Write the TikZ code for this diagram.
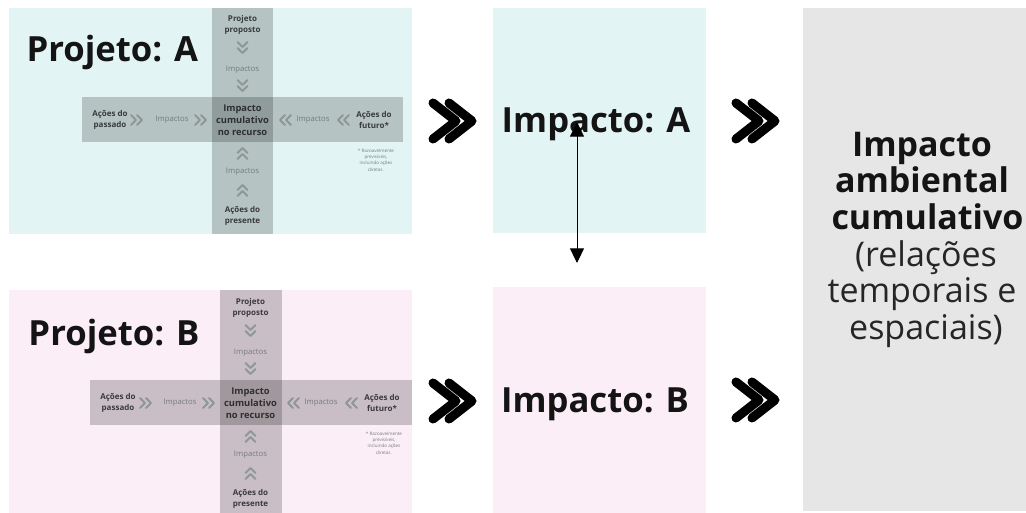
\documentclass[tikz,border=0pt]{standalone}
\usepackage{fontspec}
\setmainfont{Open Sans}
\usetikzlibrary{arrows.meta}
\tikzset{every picture/.style={line width=0.75pt}}
\definecolor{paneA}{HTML}{E3F4F4}
\definecolor{paneB}{HTML}{FCEEF7}
\definecolor{paneC}{HTML}{E6E6E6}
\definecolor{labtxt}{HTML}{3A3A3A}
\definecolor{imptxt}{HTML}{767C7C}
\definecolor{chevcol}{HTML}{8E9696}
\tikzset{
  band/.style={fill=black, fill opacity=0.2, draw=none},
  lab/.style={font=\fontsize{6}{8.5}\selectfont\bfseries, text=labtxt, align=center, inner sep=0.75pt},
  imp/.style={font=\fontsize{5.8}{7}\selectfont, text=imptxt, inner sep=0.75pt},
  core/.style={font=\fontsize{7}{9.2}\selectfont\bfseries, text=black!82, align=center, inner sep=0.75pt},
  note/.style={font=\fontsize{3.4}{4.8}\selectfont, text=imptxt, align=center, inner sep=0.75pt},
  title/.style={font=\fontsize{26}{30}\selectfont\bfseries, text=black!92, inner sep=0.75pt},
  sumtxt/.style={font=\fontsize{25.5}{27.5}\selectfont, text=black!85, inner sep=0.75pt},
  sumbold/.style={font=\fontsize{25.5}{27.5}\selectfont\bfseries, text=black!92, inner sep=0.75pt},
  smallchev/.pic={\draw[color=chevcol, line width=1.5pt, line cap=round, line join=round] (-6,-5) -- (-1,0) -- (-6,5) (0,-5) -- (5,0) -- (0,5);},
  bigchev/.pic={\draw[line width=6.8pt, line cap=round, line join=round] (-19,-18) -- (4,0) -- (-19,18) (-3,-18) -- (20,0) -- (-3,18);},
}

\begin{document}
\begin{tikzpicture}[x=0.75pt,y=0.75pt,yscale=-1,xscale=1]
\path[use as bounding box] (0,0) rectangle (1026,513);

%Shape: Rectangle [panel A]
\fill[paneA] (9,8) rectangle (412,234);
%Shape: Rectangle [panel B]
\fill[paneB] (9,290) rectangle (412,513);
%Shape: Rectangle [impact A]
\fill[paneA] (493,8) rectangle (706,233);
%Shape: Rectangle [impact B]
\fill[paneB] (493,287) rectangle (706,513);
%Shape: Rectangle [cumulative]
\fill[paneC] (803,8) rectangle (1026,511);

%Shape: Cross bands A
\fill[band] (212,8) rectangle (273,234);
\fill[band] (82,97) rectangle (403,142);
%Shape: Cross bands B
\fill[band] (220,290) rectangle (282,513);
\fill[band] (90,380) rectangle (412,425);

% Text Node
\node[title, anchor=base west] (projA) at (25,62) {Projeto: A};
% Text Node
\node[title, anchor=base west] (projB) at (27,346) {Projeto: B};

% Cross A
\node[lab] (propA) at (242.5,25) {Projeto\\proposto};
\pic[rotate=-90] at (242.5,48) {smallchev};
\node[imp] (impNA) at (242.5,70) {Impactos};
\pic[rotate=-90] at (242.5,86) {smallchev};
\node[core] (coreA) at (242.5,120) {Impacto\\cumulativo\\no recurso};
\pic[rotate=90] at (242.5,153) {smallchev};
\node[imp] (impSA) at (242.5,172) {Impactos};
\pic[rotate=90] at (242.5,190) {smallchev};
\node[lab] (presA) at (242.5,216) {Ações do\\presente};
\node[lab] (passA) at (110,120) {Ações do\\passado};
\pic at (137,120) {smallchev};
\node[imp] (impWA) at (172,120) {Impactos};
\pic at (201,120) {smallchev};
\pic[rotate=180] at (285,120) {smallchev};
\node[imp] (impEA) at (313,120) {Impactos};
\pic[rotate=180] at (343,120) {smallchev};
\node[lab] (futA) at (374,120) {Ações do\\futuro*};
\node[note] (noteA) at (376,160) {* Razoavelmente\\previsíveis,\\incluindo ações\\diretas.};

% Cross B
\node[lab] (propB) at (250.5,308) {Projeto\\proposto};
\pic[rotate=-90] at (250.5,331) {smallchev};
\node[imp] (impNB) at (250.5,353) {Impactos};
\pic[rotate=-90] at (250.5,369) {smallchev};
\node[core] (coreB) at (250.5,403) {Impacto\\cumulativo\\no recurso};
\pic[rotate=90] at (250.5,436) {smallchev};
\node[imp] (impSB) at (250.5,455) {Impactos};
\pic[rotate=90] at (250.5,473) {smallchev};
\node[lab] (presB) at (250.5,499) {Ações do\\presente};
\node[lab] (passB) at (118,403) {Ações do\\passado};
\pic at (146,403) {smallchev};
\node[imp] (impWB) at (180,403) {Impactos};
\pic at (209,403) {smallchev};
\pic[rotate=180] at (293,403) {smallchev};
\node[imp] (impEB) at (321,403) {Impactos};
\pic[rotate=180] at (351,403) {smallchev};
\node[lab] (futB) at (382,403) {Ações do\\futuro*};
\node[note] (noteB) at (384,443) {* Razoavelmente\\previsíveis,\\incluindo ações\\diretas.};

%Shape: Big chevrons
\pic at (452,121) {bigchev};
\pic at (755,121) {bigchev};
\pic at (452,401) {bigchev};
\pic at (755,400) {bigchev};

% Text Node
\node[title, anchor=base] (impA) at (596,133) {Impacto: A};
% Text Node
\node[title, anchor=base] (impB) at (595,413) {Impacto: B};

%Straight Lines [link A-B]
\coordinate (linkA) at (577,122);
\coordinate (linkB) at (577,263);
\draw[{Triangle[width=10.5pt,length=11pt]}-{Triangle[width=10.5pt,length=11pt]}] (linkA) -- (linkB);

% Text Node
\node[sumbold, anchor=base] (sumL1) at (922,157) {Impacto};
\node[sumbold, anchor=base] (sumL2) at (922,193) {ambiental};
\node[sumbold, anchor=base east] (sumL3) at (1025,230) {cumulativo};
\node[sumtxt, anchor=base] (sumL4) at (926,267) {(relações};
\node[sumtxt, anchor=base] (sumL5) at (922,303) {temporais e};
\node[sumtxt, anchor=base] (sumL6) at (926,340) {espaciais)};

\end{tikzpicture}
\end{document}
